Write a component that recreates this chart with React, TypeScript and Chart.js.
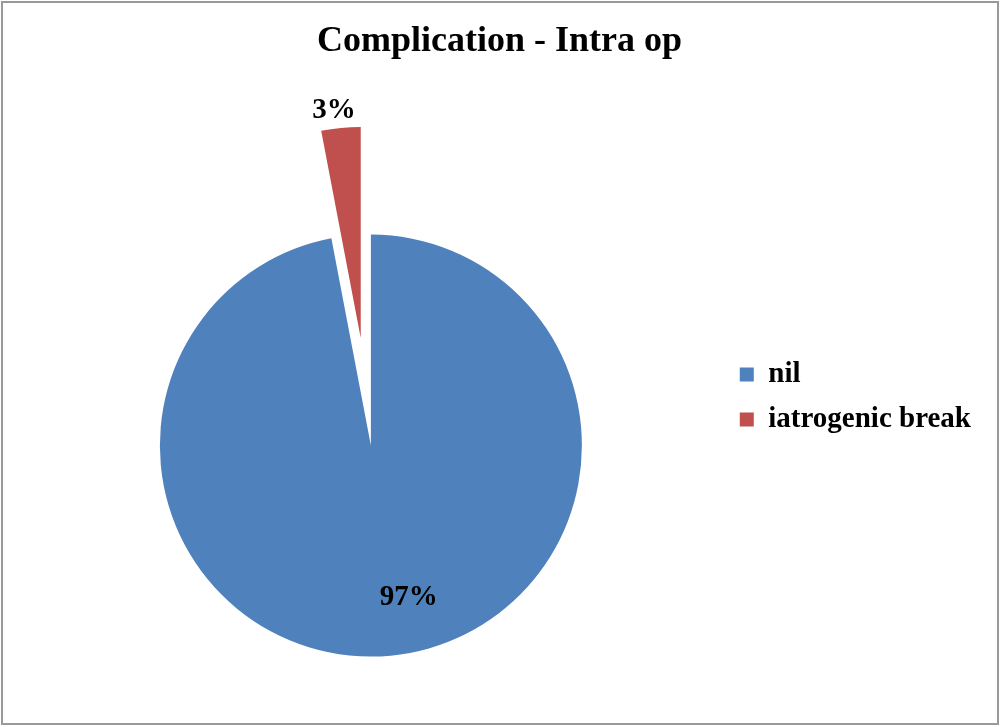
import React, { useEffect, useRef } from "react";
import { Chart, registerables } from "chart.js";

Chart.register(...registerables);

const categories: string[] = ["nil", "iatrogenic break"];
const values: number[] = [97, 3];
const percentLabels: string[] = ["97%", "3%"];
const colors: string[] = ["#4F81BD", "#C0504D"];
const titleText = "Complication - Intra op";

// Pull exploded slices out of the pie by moving the arc's centre along its mid-angle.
const explode = {
  id: "explode",
  beforeDatasetsDraw(chart: any, _args: any, opts: any) {
    const meta = chart.getDatasetMeta(0);
    const ca = chart.chartArea;
    const cx = (ca.left + ca.right) / 2 + (meta.controller.offsetX || 0);
    const cy = (ca.top + ca.bottom) / 2 + (meta.controller.offsetY || 0);
    meta.data.forEach((arc: any, i: number) => {
      const d = (opts.distances && opts.distances[i]) || 0;
      const half = (arc.startAngle + arc.endAngle) / 2;
      arc.x = cx + Math.cos(half) * d;
      arc.y = cy + Math.sin(half) * d;
    });
  },
};

const sliceLabels = {
  id: "sliceLabels",
  afterDatasetsDraw(chart: any, _args: any, opts: any) {
    const meta = chart.getDatasetMeta(0);
    const baseR = meta.controller.outerRadius;
    const ctx = chart.ctx;
    ctx.save();
    ctx.fillStyle = "#000";
    ctx.font = "bold 29px 'Liberation Serif', 'Times New Roman', serif";
    ctx.textAlign = "center";
    ctx.textBaseline = "middle";
    meta.data.forEach((arc: any, i: number) => {
      const cfg = opts.positions[i];
      const half = (arc.startAngle + arc.endAngle) / 2;
      const mid = half + (cfg.angleShift * Math.PI) / 180;
      const r = baseR * cfg.factor + cfg.extra;
      ctx.fillText(percentLabels[i], arc.x + Math.cos(mid) * r, arc.y + Math.sin(mid) * r);
    });
    ctx.restore();
  },
};

export default function App() {
  const ref = useRef<HTMLCanvasElement | null>(null);
  useEffect(() => {
    if (!ref.current) return;
    const chart = new Chart(ref.current, {
      type: "pie",
      data: {
        labels: categories,
        datasets: [
          {
            data: values,
            backgroundColor: colors,
            borderWidth: 0,
            radius: 211,
          } as any,
        ],
      },
      options: {
        responsive: false,
        animation: false,
        events: [],
        layout: { padding: { left: 18, right: 19, top: 0, bottom: 0 } },
        plugins: {
          title: {
            display: true,
            text: titleText,
            color: "#000",
            font: { family: "'Liberation Serif', 'Times New Roman', serif", size: 36, weight: "bold", lineHeight: 1.2 },
            padding: { top: 20, bottom: 101 },
          },
          legend: {
            display: true,
            position: "right",
            align: "start",
            title: {
              display: true,
              text: "",
              font: { size: 10, lineHeight: 1 },
              padding: { top: 334, bottom: 0 },
            },
            labels: {
              color: "#000",
              boxWidth: 14,
              boxHeight: 14,
              padding: 16,
              font: { family: "'Liberation Serif', 'Times New Roman', serif", size: 29, weight: "bold" },
            },
          },
          tooltip: { enabled: false },
          explode: { distances: [0, 108] },
          sliceLabels: {
            positions: [
              { factor: 0.74, extra: 0, angleShift: -8.6 },
              { factor: 1, extra: 18, angleShift: -1.3 },
            ],
          },
        } as any,
      },
      plugins: [explode, sliceLabels],
    });
    return () => chart.destroy();
  }, []);
  return (
    <div style={{ position: "fixed", left: 0, top: 0, width: 1000, height: 727, background: "#fff" }}>
      <canvas ref={ref} width={1000} height={727} style={{ position: "absolute", left: 0, top: 0 }} />
      <div
        style={{
          position: "absolute",
          left: 1,
          top: 1,
          width: 998,
          height: 724,
          boxSizing: "border-box",
          border: "2px solid #999",
          pointerEvents: "none",
        }}
      />
    </div>
  );
}
